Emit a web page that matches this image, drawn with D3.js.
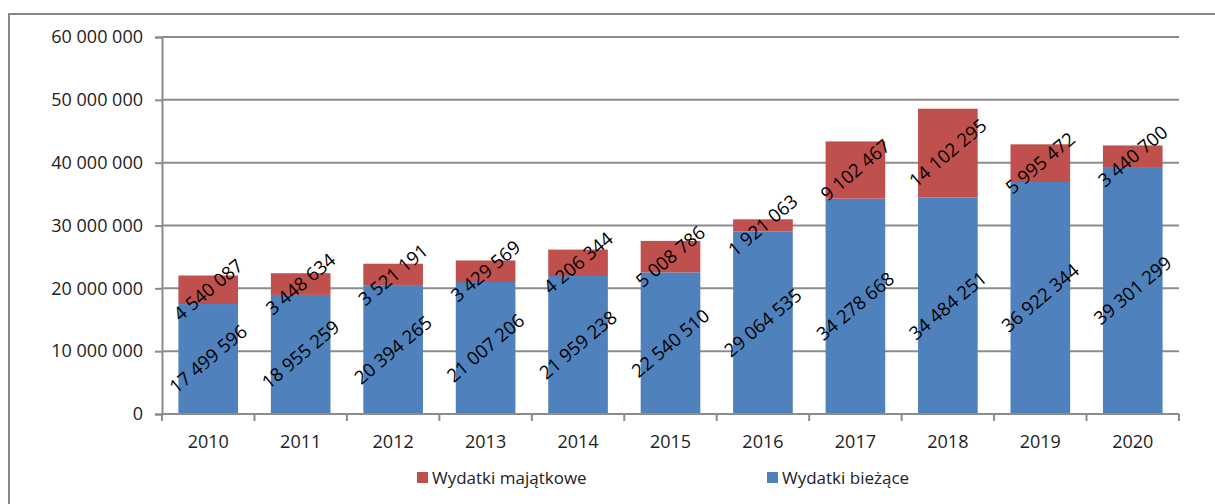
<!DOCTYPE html>
<html>
<head>
<meta charset="utf-8">
<script src="https://cdn.jsdelivr.net/npm/d3@7"></script>
<style>
  body { margin:0; background:#fff; }
  svg text { font-family:"Open Sans", "Liberation Sans", sans-serif; }
</style>
</head>
<body>
<svg id="chart" width="1215" height="504"></svg>
<script>
// chart data
// ----------
var years = ["2010","2011","2012","2013","2014","2015","2016","2017","2018","2019","2020"];
var biezace = [17499596, 18955259, 20394265, 21007206, 21959238, 22540510, 29064535, 34278668, 34484251, 36922344, 39301299];
var majatkowe = [4540087, 3448634, 3521191, 3429569, 4206344, 5008786, 1921063, 9102467, 14102295, 5995472, 3440700];
var yTicks = [0, 10000000, 20000000, 30000000, 40000000, 50000000, 60000000];
var seriesNames = ["Wydatki bieżące", "Wydatki majątkowe"];
var colors = ["#4F81BD", "#C0504D"];

(function(){

	var svg = d3.select("#chart");
	var szGrid = "#8c8c8c";

	// outer frame
	svg.append("rect")
		.attr("x", 9).attr("y", 14)
		.attr("width", 1240).attr("height", 520)
		.attr("style", "fill:none;stroke:#878787;stroke-width:2;");

	var nLeft = 162, nRight = 1179, nTop = 37, nBottom = 414;

	var x = d3.scaleBand().domain(years).range([nLeft, nRight]).paddingInner(0.355).paddingOuter(0.1775);
	var xb = d3.scaleBand().domain(years).range([nLeft, nRight]);
	var y = d3.scaleLinear().domain([0, 60000000]).range([nBottom, nTop]);

	var fmt = function(v){ return d3.format(",")(v).replace(/,/g, " "); };

	// gridlines
	svg.append("g").selectAll("line").data(yTicks.slice(1)).join("line")
		.attr("x1", nLeft).attr("x2", nRight)
		.attr("y1", function(d){ return y(d); }).attr("y2", function(d){ return y(d); })
		.attr("style", "stroke:" + szGrid + ";stroke-width:2;");

	// stacked bars
	var rows = years.map(function(yr, i){ return {year:yr, b:biezace[i], m:majatkowe[i]}; });
	var stack = d3.stack().keys(["b","m"])(rows);

	stack.forEach(function(layer, k){
		svg.append("g").selectAll("rect").data(layer).join("rect")
			.attr("x", function(d){ return x(d.data.year); })
			.attr("width", x.bandwidth())
			.attr("y", function(d){ return y(d[1]); })
			.attr("height", function(d){ return y(d[0]) - y(d[1]); })
			.attr("fill", colors[k]);
	});

	// y axis
	var yAxis = d3.axisLeft(y).tickValues(yTicks).tickSize(7).tickPadding(12).tickFormat(fmt);
	var gy = svg.append("g").attr("transform", "translate(" + nLeft + ",0)").call(yAxis);
	gy.select(".domain").attr("style", "stroke:" + szGrid + ";stroke-width:2;");
	gy.selectAll(".tick line").attr("style", "stroke:" + szGrid + ";stroke-width:2;");
	gy.selectAll(".tick text").attr("style", "font-size:18px;fill:#222;font-family:'Open Sans';");

	// x axis
	var gx = svg.append("g").attr("transform", "translate(0," + nBottom + ")");
	gx.append("line").attr("x1", nLeft).attr("x2", nRight).attr("y1", 0).attr("y2", 0)
		.attr("style", "stroke:" + szGrid + ";stroke-width:2;");
	gx.selectAll("line.tk").data(years.concat(["end"])).join("line").attr("class","tk")
		.attr("x1", function(d, i){ return nLeft + i * xb.bandwidth(); })
		.attr("x2", function(d, i){ return nLeft + i * xb.bandwidth(); })
		.attr("y1", 0).attr("y2", 7)
		.attr("style", "stroke:" + szGrid + ";stroke-width:2;");
	gx.selectAll("text").data(years).join("text")
		.attr("x", function(d){ return xb(d) + xb.bandwidth() / 2; })
		.attr("y", 34)
		.attr("text-anchor", "middle")
		.attr("style", "font-size:18px;fill:#222;")
		.text(function(d){ return d; });

	// value labels
	stack.forEach(function(layer){
		svg.append("g").selectAll("text").data(layer).join("text")
			.attr("transform", function(d){
				var cx = x(d.data.year) + x.bandwidth() / 2;
				var cy = y((d[0] + d[1]) / 2);
				return "translate(" + cx + "," + cy + ") rotate(-40)";
			})
			.attr("text-anchor", "middle")
			.attr("dy", "0.35em")
			.attr("style", "font-size:18.5px;fill:#000;")
			.text(function(d){ return fmt(d[1] - d[0]); });
	});

	// legend
	var legend = [{name:seriesNames[1], color:colors[1], x:417}, {name:seriesNames[0], color:colors[0], x:767}];
	var gl = svg.append("g").selectAll("g").data(legend).join("g")
		.attr("transform", function(d){ return "translate(" + d.x + ",472)"; });
	gl.append("rect").attr("width", 11).attr("height", 11).attr("fill", function(d){ return d.color; });
	gl.append("text").attr("x", 15).attr("y", 12)
		.attr("style", "font-size:17px;fill:#222;")
		.text(function(d){ return d.name; });

})();
</script>
</body>
</html>
